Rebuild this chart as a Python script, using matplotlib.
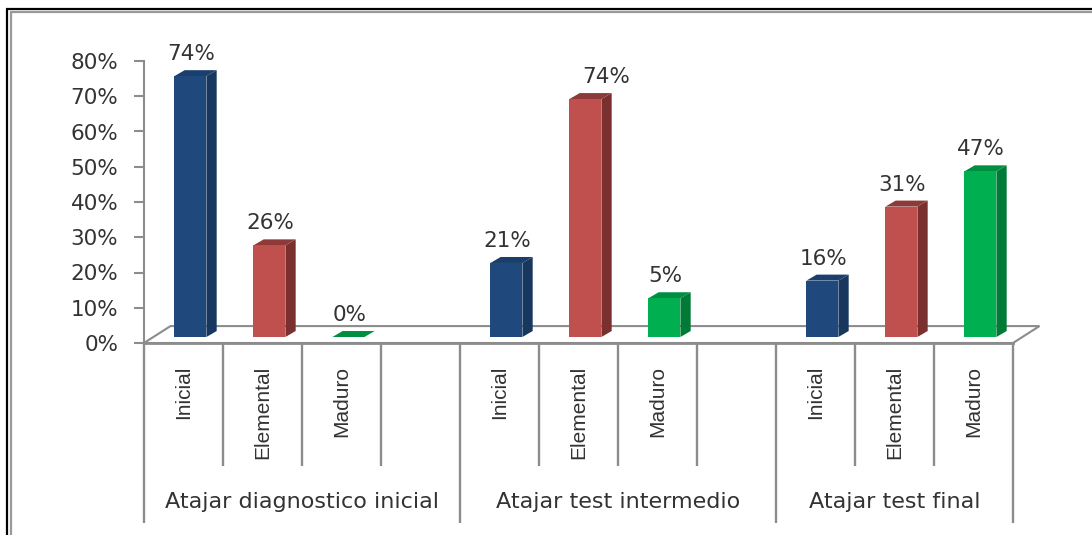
import numpy as np
import matplotlib
matplotlib.use("Agg")
import matplotlib.pyplot as plt
from matplotlib.patches import Polygon

W, H = 1092, 535

# Datos
subcats = ["Inicial", "Elemental", "Maduro", "",
           "Inicial", "Elemental", "Maduro", "",
           "Inicial", "Elemental", "Maduro"]
groups = ["Atajar diagnostico inicial", "Atajar test intermedio", "Atajar test final"]
group_edges = [0, 4, 8, 11]
# la altura dibujada no siempre coincide con la etiqueta
heights = [74, 26, 0, None, 21, 67.5, 11, None, 16, 37, 47]
labels = ["74%", "26%", "0%", "", "21%", "74%", "5%", "", "16%", "31%", "47%"]
yticks = [0, 10, 20, 30, 40, 50, 60, 70, 80]

front = ["#1F497D", "#C0504D", "#00B050"]
side = ["#17375E", "#7A302E", "#007A37"]
top = ["#1B3F6C", "#8E3A38", "#008F41"]
grey = "#8C8C8C"
txt = "#333333"

fig = plt.figure(figsize=(W / 100, H / 100), dpi=100, facecolor="white")

# marco de la imagen (sin lado derecho ni inferior)
bg = fig.add_axes([0, 0, 1, 1])
bg.set_xlim(0, W)
bg.set_ylim(H, 0)
bg.axis("off")
bg.plot([7, 7], [H, 9], color="black", lw=1.6, solid_capstyle="butt")
bg.plot([6, W], [9, 9], color="black", lw=1.6, solid_capstyle="butt")
bg.plot([11, 11], [H, 11.5], color="#999999", lw=1.6, solid_capstyle="butt")
bg.plot([10, W], [11.5, 11.5], color="#999999", lw=1.6, solid_capstyle="butt")

# eje principal: x en categorias, y en porcentaje
x0, x1, y0, y80 = 144, 1013, 343, 61
ax = fig.add_axes([x0 / W, 1 - y0 / H, (x1 - x0) / W, (y0 - y80) / H])
ax.set_xlim(0, len(subcats))
ax.set_ylim(0, 80)
ax.patch.set_alpha(0)
for s in ["top", "right", "bottom"]:
    ax.spines[s].set_visible(False)
ax.spines["left"].set_color(grey)
ax.spines["left"].set_linewidth(1.5)
ax.set_xticks([])
ax.set_yticks(yticks)
ax.set_yticklabels([f"{v}%" for v in yticks], fontsize=15.5, color=txt)
ax.tick_params(axis="y", length=7.5, width=1.5, color=grey, pad=11)

# profundidad del efecto 3D, en unidades de datos
dx_floor, dy_floor = 0.335, 4.8
dx, dy = 0.13, 1.7
base = 1.7
bar_w = 0.405
bar_off = 0.385
n = len(subcats)

# suelo
floor = Polygon([(0, 0), (dx_floor, dy_floor), (n + dx_floor, dy_floor), (n, 0)],
                closed=True, fc="white", ec=grey, lw=1.5, clip_on=False, zorder=1)
ax.add_patch(floor)
ax.plot([0, n], [0, 0], color=grey, lw=2, clip_on=False, zorder=2)

# barras
for i, h in enumerate(heights):
    if h is None:
        continue
    c = i % 4
    left = i + bar_off
    if h > 0:
        ax.bar(left, h, width=bar_w, bottom=base, align="edge", color=front[c],
               edgecolor="none", zorder=4)
        ax.add_patch(Polygon([(left + bar_w, base), (left + bar_w + dx, base + dy),
                              (left + bar_w + dx, base + h + dy), (left + bar_w, base + h)],
                             closed=True, fc=side[c], ec="none", zorder=3))
    ax.add_patch(Polygon([(left, base + h), (left + dx, base + h + dy),
                          (left + bar_w + dx, base + h + dy), (left + bar_w, base + h)],
                         closed=True, fc=top[c], ec="none", zorder=3))
    # la etiqueta de la barra 74% del segundo grupo esta corrida a la derecha
    shift = 0.265 if i == 5 else 0.01
    ax.text(left + bar_w / 2 + shift, base + h + dy + 1.7, labels[i], ha="center", va="bottom",
            fontsize=15.5, color=txt, clip_on=False)

# separadores y etiquetas de categoria
px = 80 / (y0 - y80)
for i in range(n + 1):
    d = (523 - y0) * px if i in group_edges else (466 - y0) * px
    ax.plot([i, i], [0, -d], color=grey, lw=1.7, clip_on=False, solid_capstyle="butt")
for i, s in enumerate(subcats):
    if s:
        ax.text(i + 0.5, -(366 - y0) * px, s, rotation=90, ha="center", va="top",
                fontsize=15, color=txt, clip_on=False, family="Liberation Sans")
for g, a, b in zip(groups, group_edges[:-1], group_edges[1:]):
    ax.text((a + b) / 2, -(502 - y0) * px, g, ha="center", va="center",
            fontsize=16, color=txt, clip_on=False)

fig.savefig("out.png", dpi=100)
